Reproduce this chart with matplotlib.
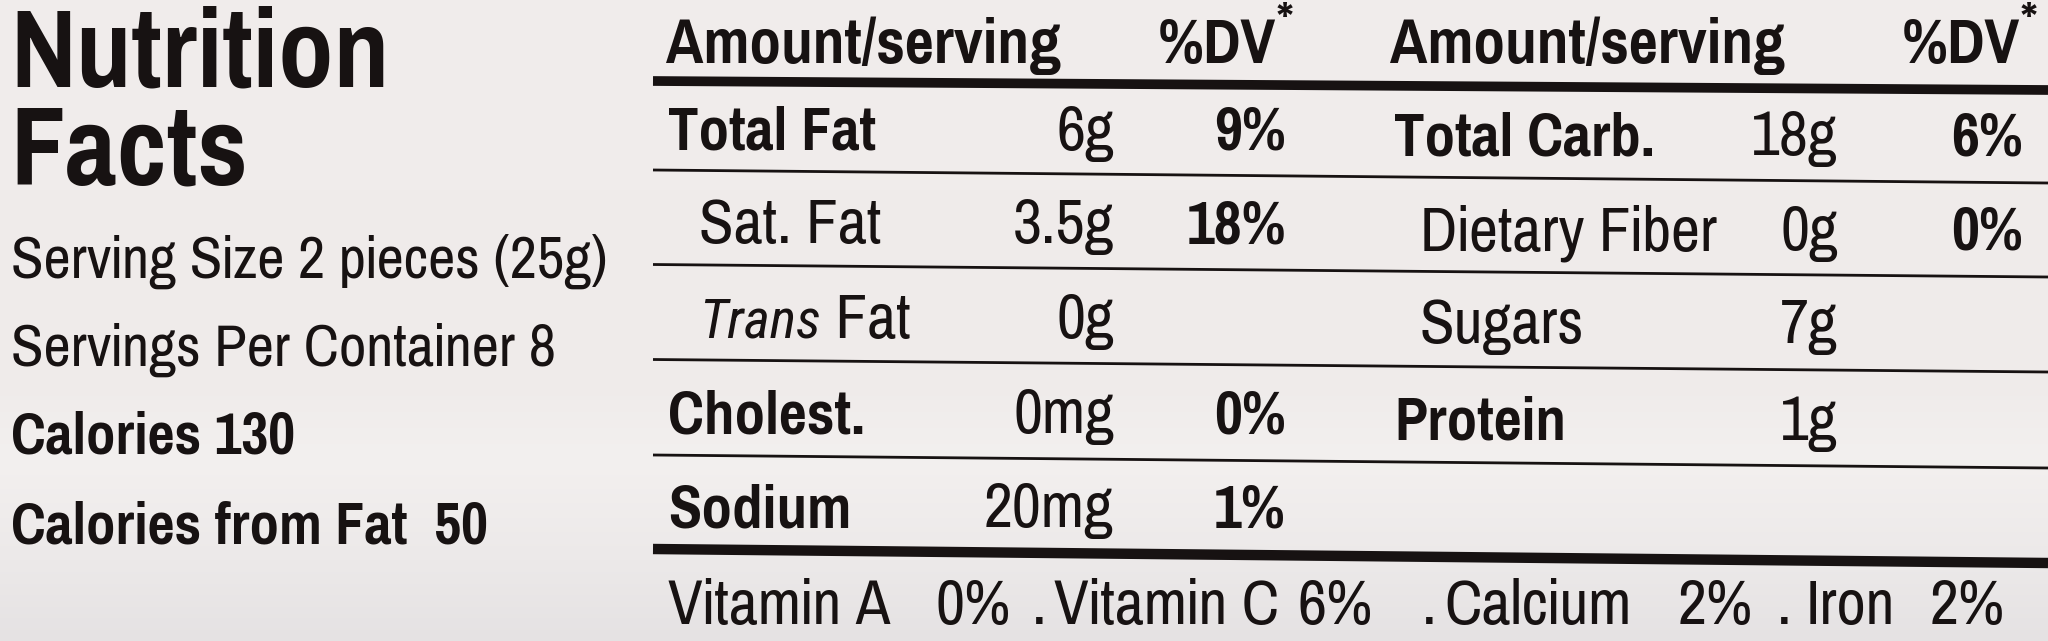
import numpy as np
import matplotlib
matplotlib.use("Agg")
import matplotlib.pyplot as plt
from matplotlib import font_manager as fm

# ---------------- data ----------------
title_lines = ["Nutrition", "Facts"]
serving_size = "Serving Size 2 pieces (25g)"
servings_per = "Servings Per Container 8"
calories = "Calories 130"
calories_fat = "Calories from Fat  50"

header_amount = "Amount/serving"
header_dv = "%DV"

left_names = ["Total Fat", "Sat. Fat", "Trans Fat", "Cholest.", "Sodium"]
left_amounts = ["6g", "3.5g", "0g", "0mg", "20mg"]
left_dv = ["9%", "18%", "", "0%", "1%"]
left_bold = [True, False, False, True, True]

right_names = ["Total Carb.", "Dietary Fiber", "Sugars", "Protein"]
right_amounts = ["18g", "0g", "7g", "1g"]
right_dv = ["6%", "0%", "", ""]
right_bold = [True, False, False, True]

vit_names = ["Vitamin A", "Vitamin C", "Calcium", "Iron"]
vit_values = ["0%", "6%", "2%", "2%"]

# ---------------- fonts ----------------
names = {f.name for f in fm.fontManager.ttflist}
def pick(*cands):
    for c in cands:
        if c in names:
            return c
    return "Liberation Sans"
FONT = pick("Pragati Narrow", "PT Sans Narrow", "Roboto Condensed")
IFONT = pick("Roboto Condensed", "Liberation Sans")

INK = "#171212"

W, H = 2048, 641
fig = plt.figure(figsize=(W / 100, H / 100), dpi=100)
ax = fig.add_axes([0, 0, 1, 1])
ax.set_xlim(0, W)
ax.set_ylim(H, 0)
ax.axis("off")
fig.canvas.draw()
R = fig.canvas.get_renderer()

stops_y = [0, 380, 460, 560, 641]
stops_c = np.array([[241, 237, 236], [239, 235, 234], [243, 240, 239],
                    [236, 233, 233], [229, 226, 227]]) / 255.0
yy = np.arange(H)
grad = np.stack([np.interp(yy, stops_y, stops_c[:, k]) for k in range(3)], axis=1)
bg = np.repeat(grad[:, None, :], 8, axis=1)
ax.imshow(bg, extent=[0, W, H, 0], aspect="auto", zorder=0, interpolation="bilinear")


def fit(s, target_px, bold=False, family=None, style="normal"):
    t = ax.text(0, 0, s, fontsize=100, fontweight="bold" if bold else "normal",
                fontstyle=style, family=family or FONT)
    w = t.get_window_extent(R).width
    t.remove()
    return 100.0 * target_px / w


def txt(x, y, s, size, bold=False, ha="left", style="normal", family=None):
    return ax.text(x, y, s, fontsize=size, fontweight="bold" if bold else "normal",
                   fontstyle=style, ha=ha, va="baseline", color=INK,
                   family=family or FONT, zorder=3)


# class sizes fitted to widths measured on the reference
S_TITLE = fit("Nutrition", 380, bold=True)
S_INFO = fit(serving_size, 596)
S_INFO_B = fit(calories, 284, bold=True)
S_HEAD = fit(header_amount, 395, bold=True)
S_ROW_B = fit("Total Carb.", 261, bold=True)
S_ROW = fit("Dietary Fiber", 297)
S_VIT = fit("Vitamin A", 214) * 1.04
S_ITAL = fit("Trans", 122, family=IFONT, style="italic")

# ---- left block ----
txt(10, 86, title_lines[0], S_TITLE, bold=True)
txt(10, 184, title_lines[1], S_TITLE, bold=True)
txt(11, 278, serving_size, S_INFO)
txt(11, 366, servings_per, S_INFO)
txt(11, 454, calories, S_INFO_B, bold=True)
txt(11, 544, calories_fat, S_INFO_B, bold=True)

# ---- rules ----
X0, X1 = 653, W
def rule(yl, yr, lw):
    ax.plot([X0, X1], [yl, yr], color=INK, lw=lw, solid_capstyle="butt", zorder=2)

rule(81, 90, 7.0)
for yl, yr in [(170, 183), (264.5, 277), (359.5, 372), (455, 468)]:
    rule(yl, yr, 2.0)
rule(549, 563, 7.5)

# ---- headers ----
for xa, xd, yb in [(666, 1276, 63), (1390, 2020, 63)]:
    txt(xa, yb, header_amount, S_HEAD, bold=True)
    txt(xd, yb, header_dv, S_HEAD, bold=True, ha="right")
    txt(xd + 1, yb - 27, "*", S_HEAD * 0.8, bold=True)

# ---- left column rows ----
left_y = [150, 243, 338, 433, 527]
for name, amt, dv, b, y in zip(left_names, left_amounts, left_dv, left_bold, left_y):
    x = 668 if b else 699
    if name.startswith("Trans"):
        word, rest = name.split(" ", 1)
        t = txt(x, y, word, S_ITAL, style="italic", family=IFONT)
        ax.annotate(" " + rest, xycoords=t, xy=(1, 0), va="bottom", ha="left",
                    fontsize=S_ROW, color=INK, family=FONT, zorder=3)
    else:
        txt(x, y, name, S_ROW_B if b else S_ROW, bold=b)
    txt(1114, y, amt, S_ROW, ha="right")
    if dv:
        txt(1286, y, dv, S_ROW_B, bold=True, ha="right")

# ---- right column rows ----
right_y = [155, 250, 343, 440]
for name, amt, dv, b, y in zip(right_names, right_amounts, right_dv, right_bold, right_y):
    x = 1394 if b else 1420
    txt(x, y, name, S_ROW_B if b else S_ROW, bold=b)
    txt(1838, y, amt, S_ROW, ha="right")
    if dv:
        txt(2023, y, dv, S_ROW_B, bold=True, ha="right")

# ---- vitamins line ----
name_x = [668, 1054, 1444, 1806]
val_x = [936, 1297, 1678, 1930]
dot_x = [1032, 1422, 1777]
vy = 624
for i, (n, v) in enumerate(zip(vit_names, vit_values)):
    txt(name_x[i], vy, n, S_VIT)
    txt(val_x[i], vy, v, S_VIT)
    if i < len(dot_x):
        txt(dot_x[i], vy, ".", S_VIT)

fig.savefig("out.png", dpi=100)
